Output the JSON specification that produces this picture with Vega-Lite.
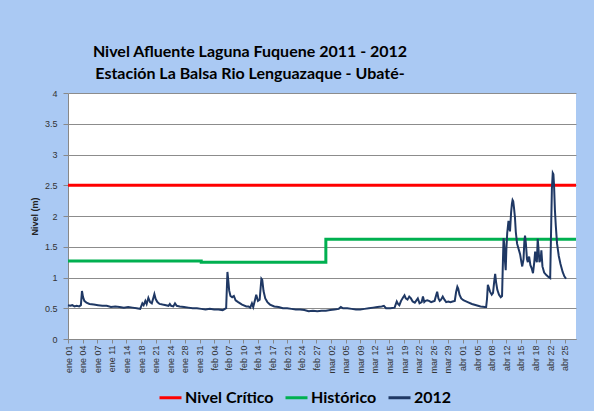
{
  "$schema": "https://vega.github.io/schema/vega-lite/v6.json",
  "width": 508,
  "height": 246,
  "autosize": {"type": "none"},
  "padding": {"left": 68, "top": 93, "right": 18, "bottom": 72},
  "background": "#aac9f3",
  "config": {
    "view": {"fill": "white", "stroke": null},
    "title": {"font": "Lato", "fontSize": 16, "fontWeight": "bold", "color": "#000000", "lineHeight": 22, "anchor": "middle", "dx": -72, "offset": 7}
  },
  "title": {"text": ["Nivel Afluente Laguna Fuquene 2011 - 2012", "Estación La Balsa Rio Lenguazaque - Ubaté-"]},
  "datasets": {
    "ref": [
      {"fecha": "2012-01-01T00:00", "nivel": 2.5, "serie": "Nivel Crítico"},
      {"fecha": "2012-04-28T05:00", "nivel": 2.5, "serie": "Nivel Crítico"},
      {"fecha": "2012-01-01T00:00", "nivel": 1.27, "serie": "Histórico"},
      {"fecha": "2012-02-01T00:00", "nivel": 1.25, "serie": "Histórico"},
      {"fecha": "2012-03-01T00:00", "nivel": 1.62, "serie": "Histórico"},
      {"fecha": "2012-04-28T05:00", "nivel": 1.62, "serie": "Histórico"}
    ],
    "s2012": [
      {"fecha": "2012-01-01T00:00", "nivel": 0.55},
      {"fecha": "2012-01-01T12:00", "nivel": 0.54},
      {"fecha": "2012-01-02T00:00", "nivel": 0.55},
      {"fecha": "2012-01-02T12:00", "nivel": 0.53},
      {"fecha": "2012-01-03T00:00", "nivel": 0.54},
      {"fecha": "2012-01-03T14:24", "nivel": 0.53},
      {"fecha": "2012-01-04T00:00", "nivel": 0.55},
      {"fecha": "2012-01-04T06:00", "nivel": 0.78},
      {"fecha": "2012-01-04T12:00", "nivel": 0.68},
      {"fecha": "2012-01-04T19:12", "nivel": 0.62},
      {"fecha": "2012-01-05T07:12", "nivel": 0.59},
      {"fecha": "2012-01-06T00:00", "nivel": 0.57},
      {"fecha": "2012-01-07T00:00", "nivel": 0.56},
      {"fecha": "2012-01-08T00:00", "nivel": 0.55},
      {"fecha": "2012-01-09T00:00", "nivel": 0.54},
      {"fecha": "2012-01-10T00:00", "nivel": 0.54},
      {"fecha": "2012-01-11T00:00", "nivel": 0.52},
      {"fecha": "2012-01-12T00:00", "nivel": 0.53},
      {"fecha": "2012-01-13T00:00", "nivel": 0.52},
      {"fecha": "2012-01-14T00:00", "nivel": 0.51},
      {"fecha": "2012-01-15T00:00", "nivel": 0.52},
      {"fecha": "2012-01-16T00:00", "nivel": 0.51},
      {"fecha": "2012-01-17T00:00", "nivel": 0.50},
      {"fecha": "2012-01-17T19:12", "nivel": 0.49},
      {"fecha": "2012-01-18T07:12", "nivel": 0.58},
      {"fecha": "2012-01-18T14:24", "nivel": 0.55},
      {"fecha": "2012-01-19T00:00", "nivel": 0.62},
      {"fecha": "2012-01-19T07:12", "nivel": 0.57},
      {"fecha": "2012-01-19T16:48", "nivel": 0.67},
      {"fecha": "2012-01-20T02:24", "nivel": 0.60},
      {"fecha": "2012-01-20T12:00", "nivel": 0.58},
      {"fecha": "2012-01-20T21:36", "nivel": 0.68},
      {"fecha": "2012-01-21T02:24", "nivel": 0.73},
      {"fecha": "2012-01-21T09:36", "nivel": 0.65},
      {"fecha": "2012-01-21T19:12", "nivel": 0.60},
      {"fecha": "2012-01-22T07:12", "nivel": 0.57},
      {"fecha": "2012-01-23T00:00", "nivel": 0.56},
      {"fecha": "2012-01-23T19:12", "nivel": 0.55},
      {"fecha": "2012-01-24T09:36", "nivel": 0.54},
      {"fecha": "2012-01-24T16:48", "nivel": 0.57},
      {"fecha": "2012-01-25T00:00", "nivel": 0.54},
      {"fecha": "2012-01-25T12:00", "nivel": 0.53},
      {"fecha": "2012-01-25T21:36", "nivel": 0.58},
      {"fecha": "2012-01-26T07:12", "nivel": 0.54},
      {"fecha": "2012-01-27T00:00", "nivel": 0.53},
      {"fecha": "2012-01-28T00:00", "nivel": 0.52},
      {"fecha": "2012-01-29T00:00", "nivel": 0.51},
      {"fecha": "2012-01-30T00:00", "nivel": 0.50},
      {"fecha": "2012-01-31T00:00", "nivel": 0.50},
      {"fecha": "2012-02-01T00:00", "nivel": 0.49},
      {"fecha": "2012-02-02T00:00", "nivel": 0.48},
      {"fecha": "2012-02-03T00:00", "nivel": 0.49},
      {"fecha": "2012-02-04T00:00", "nivel": 0.48},
      {"fecha": "2012-02-05T00:00", "nivel": 0.48},
      {"fecha": "2012-02-06T00:00", "nivel": 0.47},
      {"fecha": "2012-02-06T19:12", "nivel": 0.50},
      {"fecha": "2012-02-07T02:24", "nivel": 1.09},
      {"fecha": "2012-02-07T07:12", "nivel": 0.95},
      {"fecha": "2012-02-07T12:00", "nivel": 0.79},
      {"fecha": "2012-02-07T19:12", "nivel": 0.70},
      {"fecha": "2012-02-08T04:48", "nivel": 0.68},
      {"fecha": "2012-02-08T14:24", "nivel": 0.70},
      {"fecha": "2012-02-09T00:00", "nivel": 0.63},
      {"fecha": "2012-02-09T14:24", "nivel": 0.60},
      {"fecha": "2012-02-10T12:00", "nivel": 0.56},
      {"fecha": "2012-02-11T12:00", "nivel": 0.53},
      {"fecha": "2012-02-12T00:00", "nivel": 0.53},
      {"fecha": "2012-02-12T09:36", "nivel": 0.51},
      {"fecha": "2012-02-12T19:12", "nivel": 0.58},
      {"fecha": "2012-02-13T02:24", "nivel": 0.52},
      {"fecha": "2012-02-13T14:24", "nivel": 0.66},
      {"fecha": "2012-02-13T19:12", "nivel": 0.72},
      {"fecha": "2012-02-14T04:48", "nivel": 0.62},
      {"fecha": "2012-02-14T14:24", "nivel": 0.64},
      {"fecha": "2012-02-15T00:00", "nivel": 0.98},
      {"fecha": "2012-02-15T04:48", "nivel": 0.96},
      {"fecha": "2012-02-15T12:00", "nivel": 0.78},
      {"fecha": "2012-02-15T21:36", "nivel": 0.66},
      {"fecha": "2012-02-16T09:36", "nivel": 0.60},
      {"fecha": "2012-02-17T00:00", "nivel": 0.56},
      {"fecha": "2012-02-18T00:00", "nivel": 0.53},
      {"fecha": "2012-02-19T00:00", "nivel": 0.52},
      {"fecha": "2012-02-20T00:00", "nivel": 0.50},
      {"fecha": "2012-02-21T00:00", "nivel": 0.50},
      {"fecha": "2012-02-22T00:00", "nivel": 0.49},
      {"fecha": "2012-02-23T00:00", "nivel": 0.48},
      {"fecha": "2012-02-24T00:00", "nivel": 0.48},
      {"fecha": "2012-02-25T00:00", "nivel": 0.47},
      {"fecha": "2012-02-26T00:00", "nivel": 0.45},
      {"fecha": "2012-02-27T00:00", "nivel": 0.46},
      {"fecha": "2012-02-28T00:00", "nivel": 0.45},
      {"fecha": "2012-02-29T00:00", "nivel": 0.46},
      {"fecha": "2012-03-01T00:00", "nivel": 0.46},
      {"fecha": "2012-03-02T00:00", "nivel": 0.47},
      {"fecha": "2012-03-03T00:00", "nivel": 0.48},
      {"fecha": "2012-03-04T00:00", "nivel": 0.49},
      {"fecha": "2012-03-04T12:00", "nivel": 0.52},
      {"fecha": "2012-03-05T00:00", "nivel": 0.50},
      {"fecha": "2012-03-06T00:00", "nivel": 0.50},
      {"fecha": "2012-03-07T00:00", "nivel": 0.49},
      {"fecha": "2012-03-08T00:00", "nivel": 0.48},
      {"fecha": "2012-03-09T00:00", "nivel": 0.48},
      {"fecha": "2012-03-10T00:00", "nivel": 0.49},
      {"fecha": "2012-03-11T00:00", "nivel": 0.50},
      {"fecha": "2012-03-12T00:00", "nivel": 0.51},
      {"fecha": "2012-03-13T00:00", "nivel": 0.52},
      {"fecha": "2012-03-14T00:00", "nivel": 0.53},
      {"fecha": "2012-03-14T12:00", "nivel": 0.54},
      {"fecha": "2012-03-15T00:00", "nivel": 0.50},
      {"fecha": "2012-03-16T00:00", "nivel": 0.50},
      {"fecha": "2012-03-17T00:00", "nivel": 0.51},
      {"fecha": "2012-03-17T12:00", "nivel": 0.61},
      {"fecha": "2012-03-17T19:12", "nivel": 0.57},
      {"fecha": "2012-03-18T02:24", "nivel": 0.55},
      {"fecha": "2012-03-18T12:00", "nivel": 0.62},
      {"fecha": "2012-03-19T00:00", "nivel": 0.68},
      {"fecha": "2012-03-19T07:12", "nivel": 0.71},
      {"fecha": "2012-03-19T14:24", "nivel": 0.66},
      {"fecha": "2012-03-20T00:00", "nivel": 0.64},
      {"fecha": "2012-03-20T09:36", "nivel": 0.69},
      {"fecha": "2012-03-20T19:12", "nivel": 0.66},
      {"fecha": "2012-03-21T04:48", "nivel": 0.61},
      {"fecha": "2012-03-21T16:48", "nivel": 0.59},
      {"fecha": "2012-03-22T00:00", "nivel": 0.62},
      {"fecha": "2012-03-22T09:36", "nivel": 0.66},
      {"fecha": "2012-03-22T19:12", "nivel": 0.58},
      {"fecha": "2012-03-23T07:12", "nivel": 0.60},
      {"fecha": "2012-03-23T14:24", "nivel": 0.69},
      {"fecha": "2012-03-23T21:36", "nivel": 0.60},
      {"fecha": "2012-03-24T04:48", "nivel": 0.62},
      {"fecha": "2012-03-24T14:24", "nivel": 0.63},
      {"fecha": "2012-03-25T00:00", "nivel": 0.62},
      {"fecha": "2012-03-25T12:00", "nivel": 0.60},
      {"fecha": "2012-03-25T21:36", "nivel": 0.61},
      {"fecha": "2012-03-26T07:12", "nivel": 0.62},
      {"fecha": "2012-03-26T16:48", "nivel": 0.72},
      {"fecha": "2012-03-26T21:36", "nivel": 0.77},
      {"fecha": "2012-03-27T04:48", "nivel": 0.66},
      {"fecha": "2012-03-27T12:00", "nivel": 0.62},
      {"fecha": "2012-03-27T19:12", "nivel": 0.64},
      {"fecha": "2012-03-28T04:48", "nivel": 0.69},
      {"fecha": "2012-03-28T14:24", "nivel": 0.64},
      {"fecha": "2012-03-29T00:00", "nivel": 0.60},
      {"fecha": "2012-03-29T12:00", "nivel": 0.61},
      {"fecha": "2012-03-30T00:00", "nivel": 0.60},
      {"fecha": "2012-03-30T12:00", "nivel": 0.61},
      {"fecha": "2012-03-31T00:00", "nivel": 0.62},
      {"fecha": "2012-03-31T07:12", "nivel": 0.76},
      {"fecha": "2012-03-31T14:24", "nivel": 0.85},
      {"fecha": "2012-03-31T19:12", "nivel": 0.82},
      {"fecha": "2012-04-01T02:24", "nivel": 0.72},
      {"fecha": "2012-04-01T12:00", "nivel": 0.66},
      {"fecha": "2012-04-02T00:00", "nivel": 0.63},
      {"fecha": "2012-04-03T00:00", "nivel": 0.60},
      {"fecha": "2012-04-04T00:00", "nivel": 0.57},
      {"fecha": "2012-04-05T00:00", "nivel": 0.55},
      {"fecha": "2012-04-06T00:00", "nivel": 0.53},
      {"fecha": "2012-04-07T00:00", "nivel": 0.52},
      {"fecha": "2012-04-07T07:12", "nivel": 0.52},
      {"fecha": "2012-04-07T12:00", "nivel": 0.65},
      {"fecha": "2012-04-07T16:48", "nivel": 0.88},
      {"fecha": "2012-04-07T21:36", "nivel": 0.84},
      {"fecha": "2012-04-08T04:48", "nivel": 0.77},
      {"fecha": "2012-04-08T14:24", "nivel": 0.72},
      {"fecha": "2012-04-08T21:36", "nivel": 0.75},
      {"fecha": "2012-04-09T04:48", "nivel": 0.95},
      {"fecha": "2012-04-09T09:36", "nivel": 1.06},
      {"fecha": "2012-04-09T14:24", "nivel": 0.93},
      {"fecha": "2012-04-09T21:36", "nivel": 0.80},
      {"fecha": "2012-04-10T07:12", "nivel": 0.72},
      {"fecha": "2012-04-10T16:48", "nivel": 0.68},
      {"fecha": "2012-04-11T00:00", "nivel": 0.70},
      {"fecha": "2012-04-11T04:48", "nivel": 1.25},
      {"fecha": "2012-04-11T08:24", "nivel": 1.64},
      {"fecha": "2012-04-11T12:00", "nivel": 1.55},
      {"fecha": "2012-04-11T16:48", "nivel": 1.25},
      {"fecha": "2012-04-11T20:24", "nivel": 1.12},
      {"fecha": "2012-04-12T00:00", "nivel": 1.45},
      {"fecha": "2012-04-12T04:48", "nivel": 1.72},
      {"fecha": "2012-04-12T12:00", "nivel": 1.92},
      {"fecha": "2012-04-12T16:48", "nivel": 1.80},
      {"fecha": "2012-04-12T20:24", "nivel": 1.75},
      {"fecha": "2012-04-13T02:24", "nivel": 2.05},
      {"fecha": "2012-04-13T07:12", "nivel": 2.20},
      {"fecha": "2012-04-13T10:48", "nivel": 2.26},
      {"fecha": "2012-04-13T14:24", "nivel": 2.24},
      {"fecha": "2012-04-13T19:12", "nivel": 2.12},
      {"fecha": "2012-04-14T00:00", "nivel": 1.98},
      {"fecha": "2012-04-14T04:48", "nivel": 1.74},
      {"fecha": "2012-04-14T12:00", "nivel": 1.55},
      {"fecha": "2012-04-14T21:36", "nivel": 1.45},
      {"fecha": "2012-04-15T04:48", "nivel": 1.38},
      {"fecha": "2012-04-15T12:00", "nivel": 1.25},
      {"fecha": "2012-04-15T16:48", "nivel": 1.18},
      {"fecha": "2012-04-16T00:00", "nivel": 1.30},
      {"fecha": "2012-04-16T04:48", "nivel": 1.60},
      {"fecha": "2012-04-16T08:24", "nivel": 1.68},
      {"fecha": "2012-04-16T13:12", "nivel": 1.55},
      {"fecha": "2012-04-16T19:12", "nivel": 1.30},
      {"fecha": "2012-04-17T00:00", "nivel": 1.25},
      {"fecha": "2012-04-17T07:12", "nivel": 1.34},
      {"fecha": "2012-04-17T14:24", "nivel": 1.20},
      {"fecha": "2012-04-17T21:36", "nivel": 1.15},
      {"fecha": "2012-04-18T04:48", "nivel": 1.07},
      {"fecha": "2012-04-18T12:00", "nivel": 1.25},
      {"fecha": "2012-04-18T16:48", "nivel": 1.42},
      {"fecha": "2012-04-18T21:36", "nivel": 1.30},
      {"fecha": "2012-04-19T02:24", "nivel": 1.25},
      {"fecha": "2012-04-19T07:12", "nivel": 1.63},
      {"fecha": "2012-04-19T12:00", "nivel": 1.45},
      {"fecha": "2012-04-19T16:48", "nivel": 1.25},
      {"fecha": "2012-04-20T00:00", "nivel": 1.30},
      {"fecha": "2012-04-20T03:36", "nivel": 1.44},
      {"fecha": "2012-04-20T09:36", "nivel": 1.18},
      {"fecha": "2012-04-20T19:12", "nivel": 1.08},
      {"fecha": "2012-04-21T07:12", "nivel": 1.04},
      {"fecha": "2012-04-21T19:12", "nivel": 1.01},
      {"fecha": "2012-04-22T04:48", "nivel": 0.99},
      {"fecha": "2012-04-22T10:48", "nivel": 1.90},
      {"fecha": "2012-04-22T14:24", "nivel": 2.45},
      {"fecha": "2012-04-22T19:12", "nivel": 2.70},
      {"fecha": "2012-04-22T22:48", "nivel": 2.68},
      {"fecha": "2012-04-23T02:24", "nivel": 2.50},
      {"fecha": "2012-04-23T07:12", "nivel": 2.10},
      {"fecha": "2012-04-23T12:00", "nivel": 1.85},
      {"fecha": "2012-04-23T19:12", "nivel": 1.55},
      {"fecha": "2012-04-24T04:48", "nivel": 1.35},
      {"fecha": "2012-04-24T14:24", "nivel": 1.22},
      {"fecha": "2012-04-25T02:24", "nivel": 1.09},
      {"fecha": "2012-04-25T12:00", "nivel": 1.02},
      {"fecha": "2012-04-25T21:36", "nivel": 0.98}
    ]
  },
  "encoding": {
    "x": {
      "field": "fecha",
      "type": "temporal",
      "scale": {"domain": [{"year": 2012, "month": 1, "date": 1}, {"year": 2012, "month": 4, "date": 28, "hours": 5}]},
      "axis": {
        "title": null,
        "grid": false,
        "values": [
          {"year": 2012, "month": 1, "date": 1},
          {"year": 2012, "month": 1, "date": 4, "hours": 9, "minutes": 36},
          {"year": 2012, "month": 1, "date": 7, "hours": 19, "minutes": 12},
          {"year": 2012, "month": 1, "date": 11, "hours": 4, "minutes": 48},
          {"year": 2012, "month": 1, "date": 14, "hours": 14, "minutes": 24},
          {"year": 2012, "month": 1, "date": 18},
          {"year": 2012, "month": 1, "date": 21, "hours": 9, "minutes": 36},
          {"year": 2012, "month": 1, "date": 24, "hours": 19, "minutes": 12},
          {"year": 2012, "month": 1, "date": 28, "hours": 4, "minutes": 48},
          {"year": 2012, "month": 1, "date": 31, "hours": 14, "minutes": 24},
          {"year": 2012, "month": 2, "date": 4},
          {"year": 2012, "month": 2, "date": 7, "hours": 9, "minutes": 36},
          {"year": 2012, "month": 2, "date": 10, "hours": 19, "minutes": 12},
          {"year": 2012, "month": 2, "date": 14, "hours": 4, "minutes": 48},
          {"year": 2012, "month": 2, "date": 17, "hours": 14, "minutes": 24},
          {"year": 2012, "month": 2, "date": 21},
          {"year": 2012, "month": 2, "date": 24, "hours": 9, "minutes": 36},
          {"year": 2012, "month": 2, "date": 27, "hours": 19, "minutes": 12},
          {"year": 2012, "month": 3, "date": 2, "hours": 4, "minutes": 48},
          {"year": 2012, "month": 3, "date": 5, "hours": 14, "minutes": 24},
          {"year": 2012, "month": 3, "date": 9},
          {"year": 2012, "month": 3, "date": 12, "hours": 9, "minutes": 36},
          {"year": 2012, "month": 3, "date": 15, "hours": 19, "minutes": 12},
          {"year": 2012, "month": 3, "date": 19, "hours": 4, "minutes": 48},
          {"year": 2012, "month": 3, "date": 22, "hours": 14, "minutes": 24},
          {"year": 2012, "month": 3, "date": 26},
          {"year": 2012, "month": 3, "date": 29, "hours": 9, "minutes": 36},
          {"year": 2012, "month": 4, "date": 1, "hours": 19, "minutes": 12},
          {"year": 2012, "month": 4, "date": 5, "hours": 4, "minutes": 48},
          {"year": 2012, "month": 4, "date": 8, "hours": 14, "minutes": 24},
          {"year": 2012, "month": 4, "date": 12},
          {"year": 2012, "month": 4, "date": 15, "hours": 9, "minutes": 36},
          {"year": 2012, "month": 4, "date": 18, "hours": 19, "minutes": 12},
          {"year": 2012, "month": 4, "date": 22, "hours": 4, "minutes": 48},
          {"year": 2012, "month": 4, "date": 25, "hours": 14, "minutes": 24}
        ],
        "labelExpr": "['ene','feb','mar','abr'][month(datum.value)] + ' ' + timeFormat(datum.value, '%d')",
        "labelAngle": 270,
        "labelFont": "Liberation Sans",
        "labelFontSize": 9,
        "labelColor": "#333333",
        "labelOverlap": false,
        "labelBound": false,
        "labelFlush": false,
        "labelPadding": 2,
        "tickSize": 4,
        "tickColor": "#888888",
        "domainColor": "#888888"
      }
    },
    "y": {
      "field": "nivel",
      "type": "quantitative",
      "scale": {"domain": [0, 4], "nice": false, "zero": true},
      "axis": {
        "title": "Nivel (m)",
        "titleFont": "Liberation Sans",
        "titleFontSize": 9,
        "titleFontWeight": "bold",
        "titleColor": "#222222",
        "titlePadding": 5,
        "values": [0, 0.5, 1, 1.5, 2, 2.5, 3, 3.5, 4],
        "format": "~g",
        "labelFont": "Liberation Sans",
        "labelFontSize": 9,
        "labelColor": "#333333",
        "labelPadding": 6,
        "tickSize": 5,
        "tickColor": "#888888",
        "domainColor": "#888888",
        "grid": true,
        "gridColor": "#8c8c8c",
        "gridWidth": 1
      }
    }
  },
  "layer": [
    {
      "data": {"name": "ref"},
      "mark": {"type": "line", "interpolate": "step-after", "strokeWidth": 3},
      "encoding": {
        "color": {
          "field": "serie",
          "type": "nominal",
          "scale": {"domain": ["Nivel Crítico", "Histórico", "2012"], "range": ["#ff0000", "#00b050", "#1f3864"]},
          "legend": {
            "orient": "none",
            "legendX": 90,
            "legendY": 292,
            "direction": "horizontal",
            "title": null,
            "symbolType": "stroke",
            "symbolSize": 484,
            "symbolStrokeWidth": 3,
            "labelFont": "Lato",
            "labelFontSize": 16,
            "labelFontWeight": "bold",
            "labelColor": "#000000",
            "columnPadding": 5,
            "labelOffset": 2
          }
        }
      }
    },
    {
      "data": {"name": "s2012"},
      "mark": {"type": "line", "strokeWidth": 2},
      "encoding": {
        "color": {"datum": "2012", "type": "nominal"}
      }
    }
  ]
}
